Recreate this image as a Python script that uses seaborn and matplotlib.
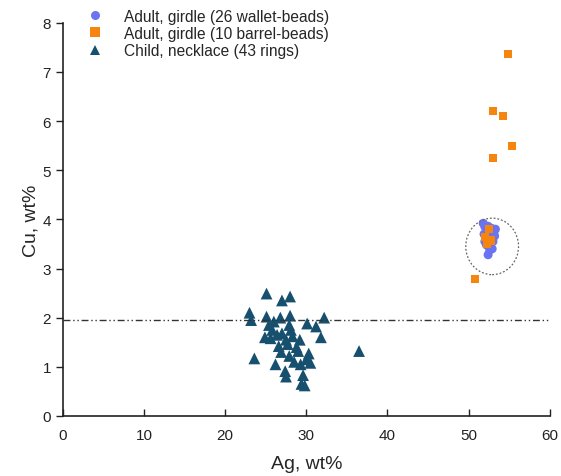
import matplotlib
matplotlib.use("Agg")
import numpy as np
import pandas as pd
import matplotlib.pyplot as plt
from matplotlib.patches import Ellipse
import seaborn as sns

# =============================================================================
# DATA
# =============================================================================

LABEL_WALLET = "Adult, girdle (26 wallet-beads)"
LABEL_BARREL = "Adult, girdle (10 barrel-beads)"
LABEL_RINGS = "Child, necklace (43 rings)"

wallet_ag = [51.8, 52.0, 53.3, 52.4, 53.0, 52.2, 52.6, 52.8, 52.1, 52.5,
             52.9, 52.3, 52.7, 53.1, 51.9, 52.4, 52.6, 52.2, 52.8, 53.2,
             52.5, 52.0, 52.7, 52.9, 52.3, 52.6]
wallet_cu = [3.92, 3.85, 3.80, 3.28, 3.55, 3.75, 3.68, 3.82, 3.58, 3.45,
             3.40, 3.62, 3.52, 3.72, 3.70, 3.86, 3.38, 3.48, 3.62, 3.66,
             3.78, 3.55, 3.44, 3.75, 3.70, 3.58]

barrel_ag = [54.9, 53.0, 54.2, 55.4, 53.0, 50.8, 52.5, 52.0, 52.7, 52.3]
barrel_cu = [7.37, 6.20, 6.11, 5.49, 5.25, 2.78, 3.80, 3.64, 3.57, 3.50]

rings_ag = [25.1, 27.0, 28.0, 23.0, 23.2, 25.1, 26.8, 28.0, 32.2, 30.1,
            31.2, 31.8, 25.8, 27.0, 28.1, 25.6, 26.6, 27.7, 29.2, 29.0,
            30.3, 23.6, 26.2, 27.4, 27.9, 29.3, 30.5, 29.6, 29.4, 36.5,
            27.5, 26.4, 27.5, 28.3, 26.0, 24.9, 27.9, 28.8, 29.8, 26.9,
            28.5, 25.4, 30.0]
rings_cu = [2.49, 2.35, 2.43, 2.10, 1.95, 2.02, 2.00, 2.04, 2.00, 1.88,
            1.82, 1.60, 1.75, 1.68, 1.75, 1.58, 1.42, 1.46, 1.55, 1.32,
            1.27, 1.17, 1.05, 0.91, 1.22, 1.05, 1.08, 0.83, 0.65, 1.32,
            0.80, 1.65, 1.55, 1.62, 1.92, 1.60, 1.85, 1.40, 0.62, 1.30,
            1.10, 1.85, 1.15]

REF_LINE_CU = 1.95
X_TICKS = [0, 10, 20, 30, 40, 50, 60]
Y_TICKS = [0, 1, 2, 3, 4, 5, 6, 7, 8]

# =============================================================================
# STYLE
# =============================================================================

COLORS = {LABEL_WALLET: "#6B74F0", LABEL_BARREL: "#F5850F", LABEL_RINGS: "#17506E"}
MARKERS = {LABEL_WALLET: "o", LABEL_BARREL: "s", LABEL_RINGS: "^"}
SIZES = {LABEL_WALLET: 42, LABEL_BARREL: 34, LABEL_RINGS: 72}


def build_frame() -> pd.DataFrame:
    parts = []
    for label, ag, cu in [(LABEL_WALLET, wallet_ag, wallet_cu),
                          (LABEL_BARREL, barrel_ag, barrel_cu),
                          (LABEL_RINGS, rings_ag, rings_cu)]:
        parts.append(pd.DataFrame({"Ag": ag, "Cu": cu, "Group": label}))
    return pd.concat(parts, ignore_index=True)


def main() -> None:
    df = build_frame()

    sns.set_theme(style="ticks")
    plt.rcParams["font.family"] = ["Liberation Sans", "DejaVu Sans"]

    fig = plt.figure(figsize=(5.61, 4.77), dpi=100)
    ax = fig.add_axes([0.112, 0.126, 0.868, 0.824])

    sns.scatterplot(
        data=df, x="Ag", y="Cu", hue="Group", style="Group", size="Group",
        palette=COLORS, markers=MARKERS, sizes=SIZES,
        linewidth=0, edgecolor="none", ax=ax, legend=True,
    )

    # reference line at ~2 wt% Cu
    ax.axhline(REF_LINE_CU, color="#333333", lw=1.0,
               linestyle=(0, (5, 2, 1, 2, 1, 2)), zorder=1)

    # dotted ring around the wallet-bead cluster
    ax.add_patch(Ellipse((52.9, 3.45), 6.5, 1.15, fill=False,
                         edgecolor="#666666", lw=0.9, linestyle=(0, (1.5, 1.5))))

    ax.set_xlim(0, 60)
    ax.set_ylim(0, 8)
    ax.set_xticks(X_TICKS)
    ax.set_yticks(Y_TICKS)
    ax.set_xlabel("Ag, wt%", fontsize=14, labelpad=9)
    ax.set_ylabel("Cu, wt%", fontsize=14, labelpad=2)
    ax.tick_params(axis="x", direction="in", length=5, width=1, labelsize=11,
                   pad=9, colors="#222222")
    ax.tick_params(axis="y", direction="out", length=5, width=1, labelsize=11,
                   colors="#222222")
    for side in ["top", "right"]:
        ax.spines[side].set_visible(False)
    for side in ["left", "bottom"]:
        ax.spines[side].set_color("#222222")
        ax.spines[side].set_linewidth(1.2)

    handles, labels = ax.get_legend_handles_labels()
    for h in handles:
        h.set_markersize(6.5)
    ax.legend(handles, labels, loc="upper left", frameon=False,
              bbox_to_anchor=(0.015, 1.06), fontsize=11.2, handletextpad=0.85,
              labelspacing=0.15, borderaxespad=0.2)

    fig.savefig("out.png", dpi=100)
    plt.close(fig)


if __name__ == "__main__":
    main()
